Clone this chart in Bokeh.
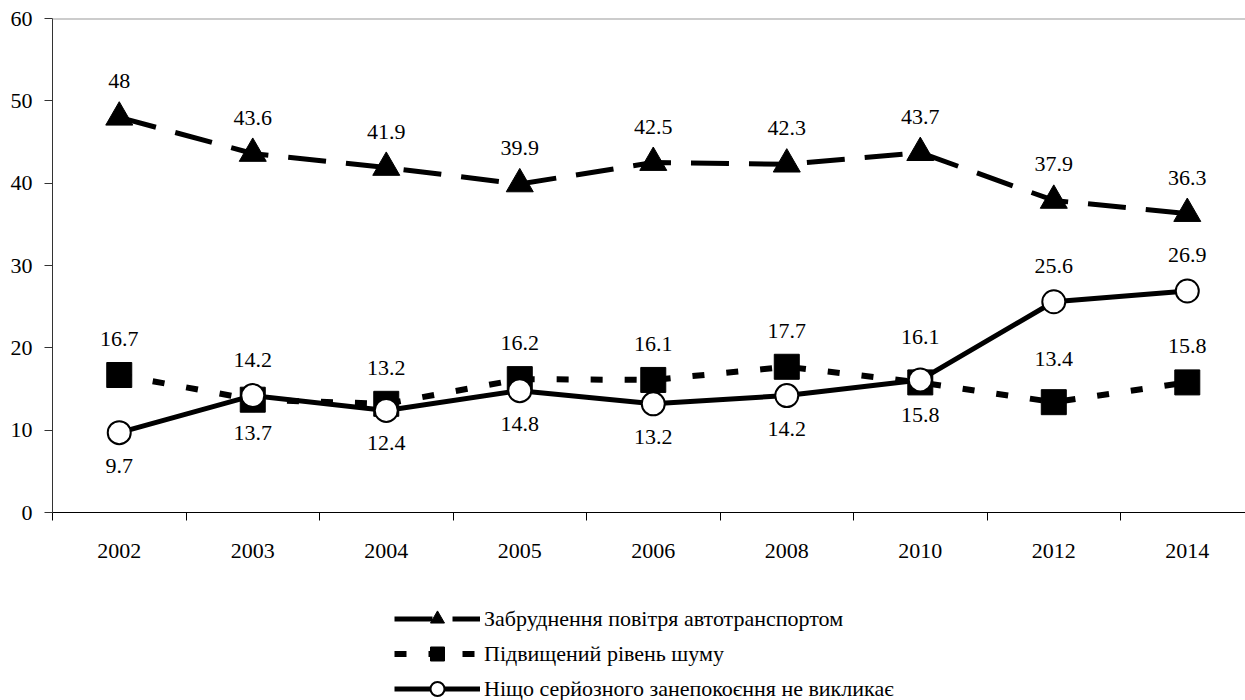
from bokeh.plotting import figure
from bokeh.layouts import column
from bokeh.models import (ColumnDataSource, FixedTicker, Range1d, Span, Legend, LegendItem)
from bokeh.core.properties import value
from bokeh.embed import file_html
from bokeh.resources import INLINE

# ---- data ----
years = ["2002", "2003", "2004", "2005", "2006", "2008", "2010", "2012", "2014"]
air_pollution = [48, 43.6, 41.9, 39.9, 42.5, 42.3, 43.7, 37.9, 36.3]
noise = [16.7, 13.7, 13.2, 16.2, 16.1, 17.7, 15.8, 13.4, 15.8]
nothing = [9.7, 14.2, 12.4, 14.8, 13.2, 14.2, 16.1, 25.6, 26.9]

series_names = [
    "Забруднення повітря автотранспортом",
    "Підвищений рівень шуму",
    "Ніщо серйозного занепокоєння не викликає",
]

# label placement (style)
air_place = ["above"] * 9
noise_place = ["above", "below", "above", "above", "above", "above", "below", "high", "above"]
nothing_place = ["below", "above", "below", "below", "below", "below", "high", "above", "above"]

OFFS = {"above": -36, "high": -43, "below": 33}
FONT = "Liberation Serif"

xs = list(range(len(years)))

src_a = ColumnDataSource(dict(x=xs, y=air_pollution, t=[f"{v:g}" for v in air_pollution],
                              off=[OFFS[k] for k in air_place]))
src_n = ColumnDataSource(dict(x=xs, y=noise, t=[f"{v:g}" for v in noise],
                              off=[OFFS[k] for k in noise_place]))
src_c = ColumnDataSource(dict(x=xs, y=nothing, t=[f"{v:g}" for v in nothing],
                              off=[OFFS[k] for k in nothing_place]))

STYLES = [
    (src_a, dict(line_width=5, line_dash="38 20"),
     dict(marker="triangle", size=27, fill_color="black", line_color="black")),
    (src_n, dict(line_width=6, line_dash="12 22"),
     dict(marker="square", size=25, fill_color="black", line_color="black")),
    (src_c, dict(line_width=5),
     dict(marker="circle", size=23, fill_color="white", line_color="black", line_width=2)),
]

# ---------------- main chart ----------------
p = figure(width=1245, height=575, output_backend="svg", toolbar_location=None,
           x_range=Range1d(-0.5, 8.436), y_range=Range1d(0, 60),
           min_border_left=52, min_border_right=0, min_border_top=18, min_border_bottom=63)
p.outline_line_color = None
p.xgrid.visible = False
p.ygrid.visible = False
p.background_fill_color = "white"
p.border_fill_color = "white"

p.add_layout(Span(location=60, dimension="width", line_color="#9a9a9a", line_width=2))

p.yaxis.ticker = FixedTicker(ticks=[0, 10, 20, 30, 40, 50, 60])
p.yaxis.major_tick_out = 8
p.yaxis.major_tick_in = 0
p.yaxis.minor_tick_out = 0
p.yaxis.minor_tick_in = 0
p.yaxis.axis_line_color = "#333333"
p.yaxis.major_tick_line_color = "#333333"
p.yaxis.major_label_standoff = 12
p.yaxis.major_label_text_font = FONT
p.yaxis.major_label_text_font_size = "22px"
p.yaxis.major_label_text_color = "black"

p.xaxis.ticker = FixedTicker(ticks=xs, minor_ticks=[i - 0.5 for i in range(len(years) + 1)])
p.xaxis.major_label_overrides = {i: y for i, y in enumerate(years)}
p.xaxis.major_tick_out = 0
p.xaxis.major_tick_in = 0
p.xaxis.minor_tick_out = 8
p.xaxis.minor_tick_in = 0
p.xaxis.axis_line_color = "black"
p.xaxis.minor_tick_line_color = "black"
p.xaxis.major_label_standoff = 23
p.xaxis.major_label_text_font = FONT
p.xaxis.major_label_text_font_size = "22px"
p.xaxis.major_label_text_color = "black"

for src, lkw, mkw in STYLES:
    p.line("x", "y", source=src, line_color="black", **lkw)
    p.scatter("x", "y", source=src, **mkw)

for src, _, _ in STYLES:
    p.text("x", "y", text="t", source=src, y_offset="off", text_align="center", text_baseline="middle",
           text_font=value(FONT), text_font_size="22px", text_color="black")

# ---------------- legend strip ----------------
lg = figure(width=1245, height=125, output_backend="svg", toolbar_location=None,
            x_range=Range1d(100, 101), y_range=Range1d(100, 101),
            min_border_left=0, min_border_right=0, min_border_top=0, min_border_bottom=0)
lg.axis.visible = False
lg.grid.visible = False
lg.outline_line_color = None
lg.background_fill_color = "white"
lg.border_fill_color = "white"

items = []
for name, (src, lkw, mkw) in zip(series_names, STYLES):
    r1 = lg.line("x", "y", source=src, line_color="black", **lkw)
    r2 = lg.scatter("x", "y", source=src, **mkw)
    items.append(LegendItem(label=name, renderers=[r1, r2]))

legend = Legend(items=items, location=(342, -6), orientation="vertical")
legend.padding = 0
legend.margin = 0
legend.border_line_color = None
legend.background_fill_alpha = 0
legend.glyph_width = 86
legend.glyph_height = 35
legend.label_height = 35
legend.spacing = 0
legend.label_standoff = 4
legend.label_text_font = FONT
legend.label_text_font_size = "22px"
legend.label_text_color = "black"
lg.add_layout(legend, "center")

layout = column(p, lg, spacing=0)
open("out.html", "w").write(file_html(layout, INLINE))
